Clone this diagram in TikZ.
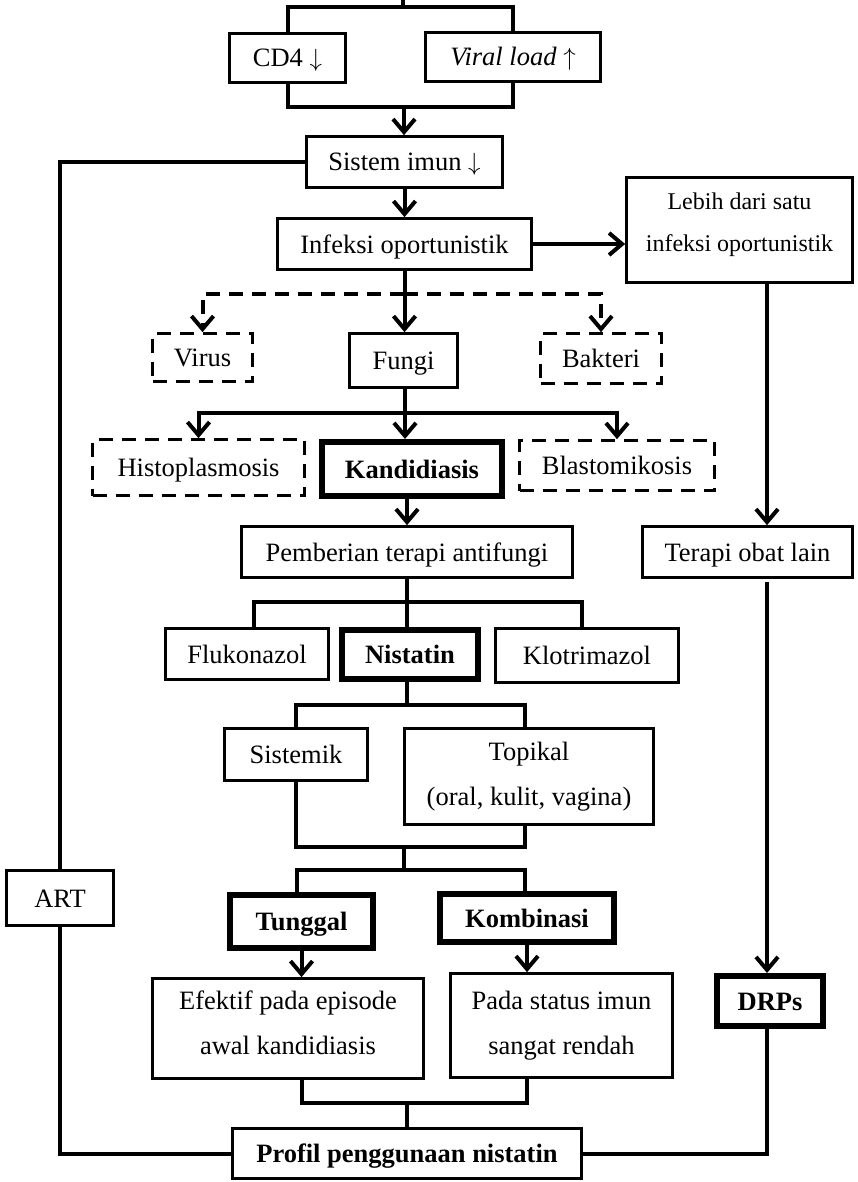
\documentclass[tikz,border=0pt]{standalone}
\usepackage{fontspec}
\setmainfont{Liberation Serif}
\usetikzlibrary{arrows.meta,calc}
\tikzset{
  box/.style={draw, line width=2.7pt, inner sep=0pt, text height=18pt, text depth=0pt,
    font=\fontsize{26.5}{32}\selectfont},
  tbox/.style={box, line width=6pt, font=\fontsize{26.5}{32}\selectfont\bfseries},
  dbox/.style={box, dash pattern=on 14pt off 9pt},
  mbox/.style={draw, line width=2.7pt, inner sep=0pt, align=center,
    font=\fontsize{26.5}{45}\selectfont},
  conn/.style={line width=4pt},
  arr/.style={conn, -{Straight Barb[length=13pt,width=22pt]}},
  darr/.style={arr, dash pattern=on 14pt off 9pt},
}
\begin{document}
\begin{tikzpicture}[x=1pt,y=-1pt]
\useasboundingbox (0,0) rectangle (857,1182);
% nodes
\node[box, minimum width=116pt, minimum height=49pt] (cd4) at (287.5,58) {CD4 $\downarrow$};
\node[box, minimum width=175pt, minimum height=49pt] (viral) at (513,57) {\textit{Viral load} $\uparrow$};
\node[box, minimum width=196pt, minimum height=51pt] (imun) at (404.5,162) {Sistem imun $\downarrow$};
\node[box, minimum width=254pt, minimum height=51pt] (infeksi) at (404.5,244) {Infeksi oportunistik};
\node[mbox, minimum width=226pt, minimum height=105pt, font=\fontsize{24}{42}\selectfont] (lebih) at (739.5,230) {Lebih dari satu\\infeksi oportunistik\rule[-16pt]{0pt}{16pt}};
\node[dbox, minimum width=100pt, minimum height=48pt] (virus) at (202.5,357.5) {Virus};
\node[box, minimum width=108pt, minimum height=54pt] (fungi) at (403.5,360.5) {Fungi};
\node[dbox, minimum width=121pt, minimum height=50pt] (bakteri) at (601,358.5) {Bakteri};
\node[dbox, minimum width=212pt, minimum height=56pt] (histo) at (198.5,467.5) {Histoplasmosis};
\node[tbox, minimum width=180pt, minimum height=54pt] (kandi) at (412,469) {Kandidiasis};
\node[dbox, minimum width=195pt, minimum height=50pt] (blasto) at (617,465.5) {Blastomikosis};
\node[box, minimum width=331pt, minimum height=51pt] (pemberian) at (407,552) {Pemberian terapi antifungi};
\node[box, minimum width=210pt, minimum height=51pt] (terapi) at (747.5,552) {Terapi obat lain};
\node[box, minimum width=163pt, minimum height=51pt] (fluko) at (247,654) {Flukonazol};
\node[tbox, minimum width=136pt, minimum height=49pt] (nistatin) at (410,654.5) {Nistatin};
\node[box, minimum width=183pt, minimum height=54pt] (klotri) at (587,655.5) {Klotrimazol};
\node[box, minimum width=143pt, minimum height=52pt] (sistemik) at (296,754.5) {Sistemik};
\node[mbox, minimum width=249pt, minimum height=96pt] (topikal) at (529,776.5) {Topikal\\(oral, kulit, vagina)};
\node[box, minimum width=107pt, minimum height=55pt] (art) at (60,898) {ART};
\node[tbox, minimum width=143pt, minimum height=53pt] (tunggal) at (301.5,921.5) {Tunggal};
\node[tbox, minimum width=174pt, minimum height=48pt] (kombinasi) at (527,918) {Kombinasi};
\node[mbox, minimum width=271pt, minimum height=100pt] (efektif) at (288,1028.5) {Efektif pada episode\\awal kandidiasis\rule[-12pt]{0pt}{12pt}};
\node[mbox, minimum width=222pt, minimum height=104pt] (pada) at (561.5,1025.5) {Pada status imun\\sangat rendah};
\node[tbox, minimum width=106pt, minimum height=50pt] (drps) at (770,1001) {DRPs};
\node[box, minimum width=349pt, minimum height=50pt, font=\fontsize{26.5}{32}\selectfont\bfseries] (profil) at (407,1153.5) {Profil penggunaan nistatin};
% coordinates
\coordinate (top) at (403,0);
\coordinate (tj) at (403,7);
\coordinate (bj) at (404,107);
\coordinate (rx) at (767,0);
\coordinate (dj) at (404,294);
\coordinate (fj) at (405,413);
\coordinate (pj) at (407,602);
\coordinate (nj) at (407,705);
\coordinate (sj) at (404,847);
\coordinate (kj) at (404,870);
\coordinate (ej) at (407,1103);
% connectors
\draw[conn] (top) -- (tj);
\draw[conn] (cd4.north) |- (tj) -| (viral.north);
\draw[conn] (cd4.south) |- (bj) -| (viral.south);
\draw[arr] (bj) -- (imun.north -| bj);
\draw[arr] (imun.south) -- (infeksi.north);
\draw[conn] (imun.west) -| (art.north);
\draw[conn] (art.south) |- (profil.west);
\draw[arr] (infeksi.east) -- (infeksi.east -| lebih.west);
\draw[arr] (lebih.south -| rx) -- (terapi.north -| rx);
\draw[arr] ($(terapi.south -| rx)+(0,3)$) -- (drps.north -| rx);
\draw[conn] (drps.south -| rx) |- (profil.east);
\draw[arr] (infeksi.south) -- (fungi.north -| infeksi.south);
\draw[darr] (dj) -| (virus.north);
\draw[darr] (dj) -| (bakteri.north);
\draw[conn] (fungi.south -| fj) -- (fj);
\draw[arr] (fj) -| (histo.north);
\draw[arr] (fj) -- (kandi.north -| fj);
\draw[arr] (fj) -| (blasto.north);
\draw[arr] (kandi.south -| pemberian.north) -- (pemberian.north);
\draw[conn] (pemberian.south) -- (pj);
\draw[conn] (pj) -| ($(fluko.north)+(7,0)$);
\draw[conn] (pj) -| ($(klotri.north)+(-5,0)$);
\draw[conn] (pj) -- (nistatin.north -| pj);
\draw[conn] (nistatin.south -| nj) -- (nj);
\draw[conn] (nj) -| (sistemik.north);
\draw[conn] (nj) -| ($(topikal.north)+(-4,0)$);
\draw[conn] (sistemik.south) |- (sj) -| ($(topikal.south)+(-4,0)$);
\draw[conn] (sj) -- (kj);
\draw[conn] (kj) -| ($(tunggal.north)+(-5,0)$);
\draw[conn] (kj) -| ($(kombinasi.north)+(-2,0)$);
\draw[arr] (tunggal.south) -- (efektif.north -| tunggal.south);
\draw[arr] (kombinasi.south) -- (pada.north -| kombinasi.south);
\draw[conn] (efektif.south -| tunggal.south) |- (ej) -| (pada.south -| kombinasi.south);
\draw[conn] (ej) -- (profil.north -| ej);
\end{tikzpicture}
\end{document}
